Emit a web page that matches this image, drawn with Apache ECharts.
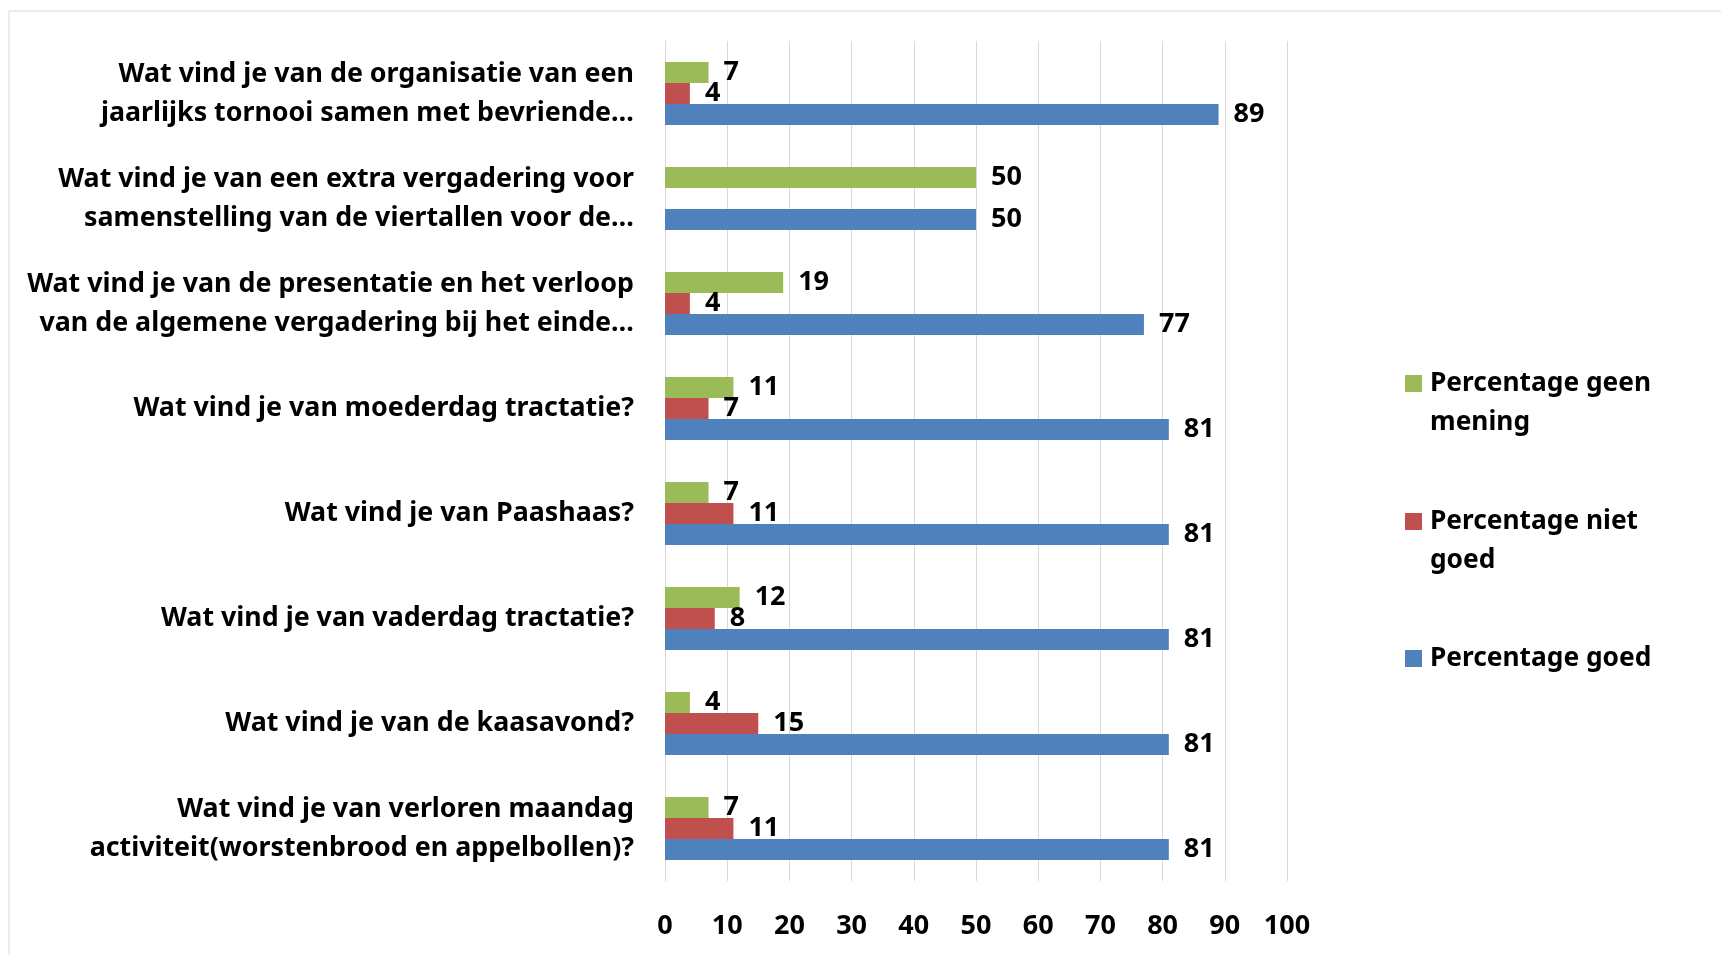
<!DOCTYPE html>
<html>
<head>
<meta charset="utf-8">
<script src="https://cdn.jsdelivr.net/npm/echarts@6/dist/echarts.min.js"></script>
<style>
  html, body { margin: 0; padding: 0; background: #fff; }
  #chart { width: 1721px; height: 955px; }
</style>
</head>
<body>
<div id="chart"></div>
<script>
var chart = echarts.init(document.getElementById('chart'));

// vragen, van boven naar onder
var categories = [
	'Wat vind je van de organisatie van een\njaarlijks tornooi samen met bevriende…',
	'Wat vind je van een extra vergadering voor\nsamenstelling van de viertallen voor de…',
	'Wat vind je van de presentatie en het verloop\nvan de algemene vergadering bij het einde…',
	'Wat vind je van moederdag tractatie?',
	'Wat vind je van Paashaas?',
	'Wat vind je van vaderdag tractatie?',
	'Wat vind je van de kaasavond?',
	'Wat vind je van verloren maandag\nactiviteit(worstenbrood en appelbollen)?'
];

var geenMening = [7, 50, 19, 11, 7, 12, 4, 7];
var nietGoed = [4, null, 4, 7, 11, 8, 15, 11];
var goed = [89, 50, 77, 81, 81, 81, 81, 81];

var xTicks = [0, 100, 10];   // min, max, interval

var fontFam = "'Noto Sans', sans-serif";

var labelStyle = {
	show: true,
	position: 'right',
	distance: 15,
	color: '#000',
	fontWeight: 'bold',
	fontSize: 27,
	fontFamily: fontFam
};

// een legenda per reeks, zodat het blokje bij de eerste regel staat
function legendBox(name, top, twoLines) {
	return {
		data: [name],
		orient: 'vertical',
		left: 1405,
		top: top,
		padding: 0,
		icon: 'rect',
		itemWidth: 17,
		itemHeight: 17,
		selectedMode: false,
		formatter: function (n) {
			return twoLines ? ' \n' + n : n;
		},
		textStyle: {
			color: '#000',
			fontWeight: 'bold',
			fontSize: 26.3,
			lineHeight: 39,
			fontFamily: fontFam,
			padding: [0, 0, 0, 3]
		}
	};
}

var option = {
	animation: false,
	graphic: [{
		type: 'rect',
		shape: { x: 9, y: 11, width: 1800, height: 1000 },
		style: { fill: 'none', stroke: '#d9d9d9', lineWidth: 1 },
		silent: true
	}],
	legend: [
		legendBox('Percentage geen\nmening', 325, true),
		legendBox('Percentage niet\ngoed', 463, true),
		legendBox('Percentage goed', 639, false)
	],
	grid: {
		left: 665,
		right: 434,
		top: 41,
		bottom: 74
	},
	xAxis: {
		type: 'value',
		min: xTicks[0],
		max: xTicks[1],
		interval: xTicks[2],
		axisLine: { show: false },
		axisTick: { show: false },
		splitLine: { show: true, lineStyle: { color: '#d9d9d9', width: 1 } },
		axisLabel: {
			margin: 32,
			color: '#000',
			fontWeight: 'bold',
			fontSize: 27,
			fontFamily: fontFam
		}
	},
	yAxis: {
		type: 'category',
		inverse: true,
		data: categories,
		axisLine: { show: true, lineStyle: { color: '#d9d9d9', width: 1 } },
		axisTick: { show: false },
		axisLabel: {
			margin: 31,
			align: 'right',
			color: '#000',
			fontWeight: 'bold',
			fontSize: 26.8,
			lineHeight: 39,
			fontFamily: fontFam
		}
	},
	series: [{
		name: 'Percentage geen\nmening',
		type: 'bar',
		data: geenMening,
		barWidth: 21,
		barGap: '0%',
		itemStyle: { color: '#9BBB59' },
		label: labelStyle
	}, {
		name: 'Percentage niet\ngoed',
		type: 'bar',
		data: nietGoed,
		barWidth: 21,
		barGap: '0%',
		itemStyle: { color: '#C0504D' },
		label: labelStyle
	}, {
		name: 'Percentage goed',
		type: 'bar',
		data: goed,
		barWidth: 21,
		barGap: '0%',
		itemStyle: { color: '#4F81BD' },
		label: labelStyle
	}]
};

chart.setOption(option);
</script>
</body>
</html>
